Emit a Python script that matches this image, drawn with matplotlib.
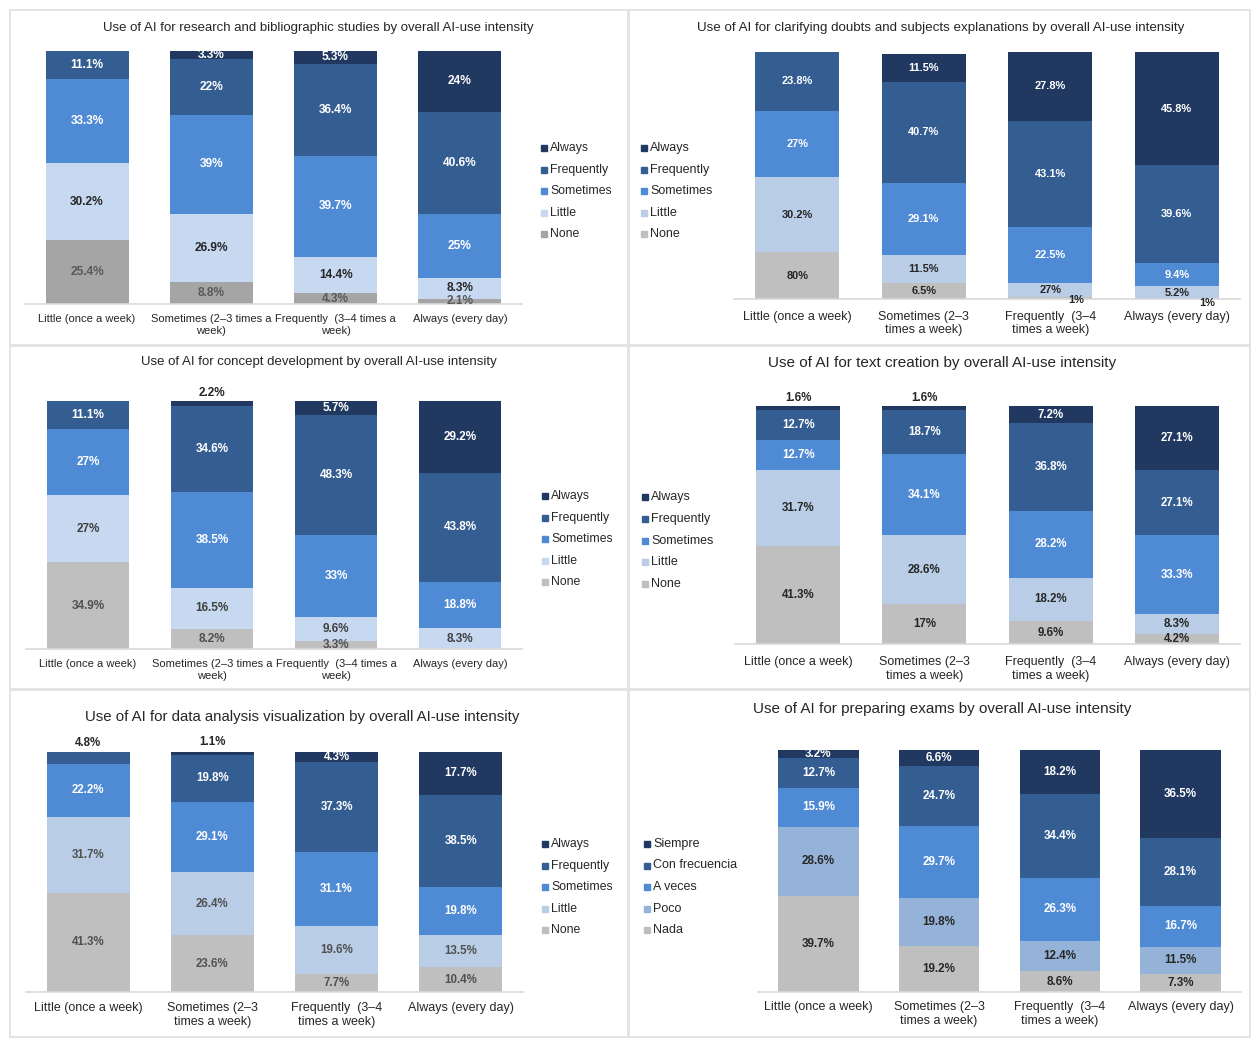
import matplotlib
matplotlib.use("Agg")
import matplotlib.pyplot as plt
from matplotlib.lines import Line2D
from matplotlib.patches import Rectangle

plt.rcParams["font.family"] = ["Liberation Sans", "DejaVu Sans"]

W, H = 1259, 1046

levels_en = ["None", "Little", "Sometimes", "Frequently", "Always"]
levels_es = ["Nada", "Poco", "A veces", "Con frecuencia", "Siempre"]

ticks_long = ["Little (once a week)", "Sometimes (2–3 times a\nweek)",
              "Frequently  (3–4 times a\nweek)", "Always (every day)"]
ticks_short = ["Little (once a week)", "Sometimes (2–3\ntimes a week)",
               "Frequently  (3–4\ntimes a week)", "Always (every day)"]

# rows: None, Little, Sometimes, Frequently, Always / columns: the 4 intensity groups
research = [[25.4, 8.8, 4.3, 2.1],
            [30.2, 26.9, 14.4, 8.3],
            [33.3, 39.0, 39.7, 25.0],
            [11.1, 22.0, 36.4, 40.6],
            [0.0, 3.3, 5.3, 24.0]]
clarify = [[19.0, 6.5, 1.0, 0.0],
           [30.2, 11.5, 5.6, 5.2],
           [27.0, 29.1, 22.5, 9.4],
           [23.8, 40.7, 43.1, 39.6],
           [0.0, 11.5, 27.8, 45.8]]
# labels printed in the source chart that do not match the bar heights
clarify_text = {(0, 0): "80%", (1, 2): "27%", (0, 3): "1%"}
concept = [[34.9, 8.2, 3.3, 0.0],
           [27.0, 16.5, 9.6, 8.3],
           [27.0, 38.5, 33.0, 18.8],
           [11.1, 34.6, 48.3, 43.8],
           [0.0, 2.2, 5.7, 29.2]]
text_creation = [[41.3, 17.0, 9.6, 4.2],
                 [31.7, 28.6, 18.2, 8.3],
                 [12.7, 34.1, 28.2, 33.3],
                 [12.7, 18.7, 36.8, 27.1],
                 [1.6, 1.6, 7.2, 27.1]]
data_analysis = [[41.3, 23.6, 7.7, 10.4],
                 [31.7, 26.4, 19.6, 13.5],
                 [22.2, 29.1, 31.1, 19.8],
                 [4.8, 19.8, 37.3, 38.5],
                 [0.0, 1.1, 4.3, 17.7]]
exams = [[39.7, 19.2, 8.6, 7.3],
         [28.6, 19.8, 12.4, 11.5],
         [15.9, 29.7, 26.3, 16.7],
         [12.7, 24.7, 34.4, 28.1],
         [3.2, 6.6, 18.2, 36.5]]

always_c = "#213961"
freq_c = "#345d92"
some_c = "#4f8ad5"

panels = [
    dict(data=research, text={}, levels=levels_en,
         title="Use of AI for research and bibliographic studies by overall AI-use intensity",
         title_xy=(318, 28), title_w=433, box=(25, 51, 522, 304), ticks=ticks_long,
         tick_size=8, tick_pad=7.3, label_size=8.6, leg_xy=(542, 148), leg_step=21.5, leg_size=8.8,
         little="#c6d9f1", none="#a5a5a5", little_txt="#262626", none_txt="#595959", outside={}),
    dict(data=clarify, text=clarify_text, levels=levels_en,
         title="Use of AI for clarifying doubts and subjects explanations by overall AI-use intensity",
         title_xy=(941, 28), title_w=489, box=(734, 52, 1240, 299), ticks=ticks_short,
         tick_size=9, tick_pad=8.3, label_size=7.9, leg_xy=(642, 148), leg_step=21.5, leg_size=9,
         little="#b9cde6", none="#bfbfbf", little_txt="#262626", none_txt="#262626",
         outside={(0, 2): (26, -2), (0, 3): (30, -4)}),
    dict(data=concept, text={}, levels=levels_en,
         title="Use of AI for concept development by overall AI-use intensity",
         title_xy=(319, 362), title_w=358, box=(26, 401, 522, 649), ticks=ticks_long,
         tick_size=8, tick_pad=7.5, label_size=8.5, leg_xy=(543, 496), leg_step=21.5, leg_size=8.8,
         little="#c6d9f1", none="#bfbfbf", little_txt="#404040", none_txt="#505050",
         outside={(4, 1): (0, 11)}),
    dict(data=text_creation, text={}, levels=levels_en,
         title="Use of AI for text creation by overall AI-use intensity",
         title_xy=(942, 363), title_w=349, box=(735, 406, 1240, 644), ticks=ticks_short,
         tick_size=9, tick_pad=8.8, label_size=8.3, leg_xy=(643, 497), leg_step=21.75, leg_size=9,
         little="#b9cde6", none="#bfbfbf", little_txt="#262626", none_txt="#262626",
         outside={(4, 0): (0, 10), (4, 1): (0, 10)}),
    dict(data=data_analysis, text={}, levels=levels_en,
         title="Use of AI for data analysis visualization by overall AI-use intensity",
         title_xy=(302, 717), title_w=437, box=(26, 752, 523, 992), ticks=ticks_short,
         tick_size=9, tick_pad=7.5, label_size=8.3, leg_xy=(543, 844), leg_step=21.5, leg_size=8.8,
         little="#b9cde6", none="#bfbfbf", little_txt="#505050", none_txt="#505050",
         outside={(3, 0): (0, 15), (4, 1): (0, 11)}),
    dict(data=exams, text={}, levels=levels_es,
         title="Use of AI for preparing exams by overall AI-use intensity",
         title_xy=(942, 709), title_w=380, box=(758, 750, 1241, 992), ticks=ticks_short,
         tick_size=9, tick_pad=6.8, label_size=8.4, leg_xy=(645, 844), leg_step=21.5, leg_size=9,
         little="#95b3d9", none="#bfbfbf", little_txt="#262626", none_txt="#262626",
         outside={}),
]

frames = [(10, 10, 628, 345), (629, 10, 1250, 345),
          (10, 346, 628, 689), (629, 346, 1250, 689),
          (10, 690, 628, 1037), (629, 690, 1250, 1037)]

fig = plt.figure(figsize=(W / 100, H / 100), dpi=100)
fig.patch.set_facecolor("white")

for x0, y0, x1, y1 in frames:
    fig.add_artist(Rectangle((x0 / W, 1 - y1 / H), (x1 - x0) / W, (y1 - y0) / H,
                             transform=fig.transFigure, fill=False,
                             edgecolor="#e2e2e2", lw=1.3))

titles = []
for p in panels:
    xa, top, xb, base = p["box"]
    ax = fig.add_axes([xa / W, 1 - base / H, (xb - xa) / W, (base - top) / H])
    colors = [p["none"], p["little"], some_c, freq_c, always_c]
    txt_colors = [p["none_txt"], p["little_txt"], "white", "white", "white"]
    x = range(4)
    bottom = [0.0] * 4
    for i, row in enumerate(p["data"]):
        ax.bar(x, row, bottom=bottom, width=0.667, color=colors[i], linewidth=0)
        for j, v in enumerate(row):
            label = p["text"].get((i, j), f"{v:g}%" if v > 0 else None)
            if label is None:
                continue
            dx, dy = p["outside"].get((i, j), (0, 0))
            color = "#262626" if (i, j) in p["outside"] else txt_colors[i]
            ax.annotate(label, (j, bottom[j] + v / 2), xytext=(dx * 0.72, dy * 0.72),
                        textcoords="offset points", ha="center", va="center",
                        fontsize=p["label_size"], fontweight="bold", color=color,
                        annotation_clip=False)
        bottom = [b + v for b, v in zip(bottom, row)]

    ax.set_xlim(-0.5, 3.5)
    ax.set_ylim(0, 100)
    ax.set_xticks(list(x))
    ax.set_xticklabels(p["ticks"], fontsize=p["tick_size"], color="#262626", linespacing=1.2)
    ax.tick_params(axis="x", length=0, pad=p["tick_pad"])
    ax.set_yticks([])
    for s in ["top", "right", "left"]:
        ax.spines[s].set_visible(False)
    ax.spines["bottom"].set_color("#d9d9d9")
    ax.spines["bottom"].set_linewidth(1.2)
    ax.patch.set_alpha(0)

    # legend, top entry first
    lx, ly = p["leg_xy"]
    for k in range(5):
        idx = 4 - k
        yy = 1 - (ly + k * p["leg_step"]) / H
        fig.add_artist(Line2D([(lx + 2) / W], [yy], marker="s", markersize=4.2, linestyle="none",
                              color=colors[idx], transform=fig.transFigure))
        fig.text((lx + 8) / W, yy, p["levels"][idx], fontsize=p["leg_size"],
                 color="#262626", va="center", ha="left")

    tx, ty = p["title_xy"]
    t = fig.text(tx / W, 1 - ty / H, p["title"], fontsize=9.5, color="#262626",
                 ha="center", va="center")
    titles.append((t, p["title_w"]))

# scale titles to the width they take in the source
renderer = fig.canvas.get_renderer()
for t, w in titles:
    t.set_fontsize(t.get_fontsize() * w / t.get_window_extent(renderer).width)

fig.savefig("out.png", dpi=100)
